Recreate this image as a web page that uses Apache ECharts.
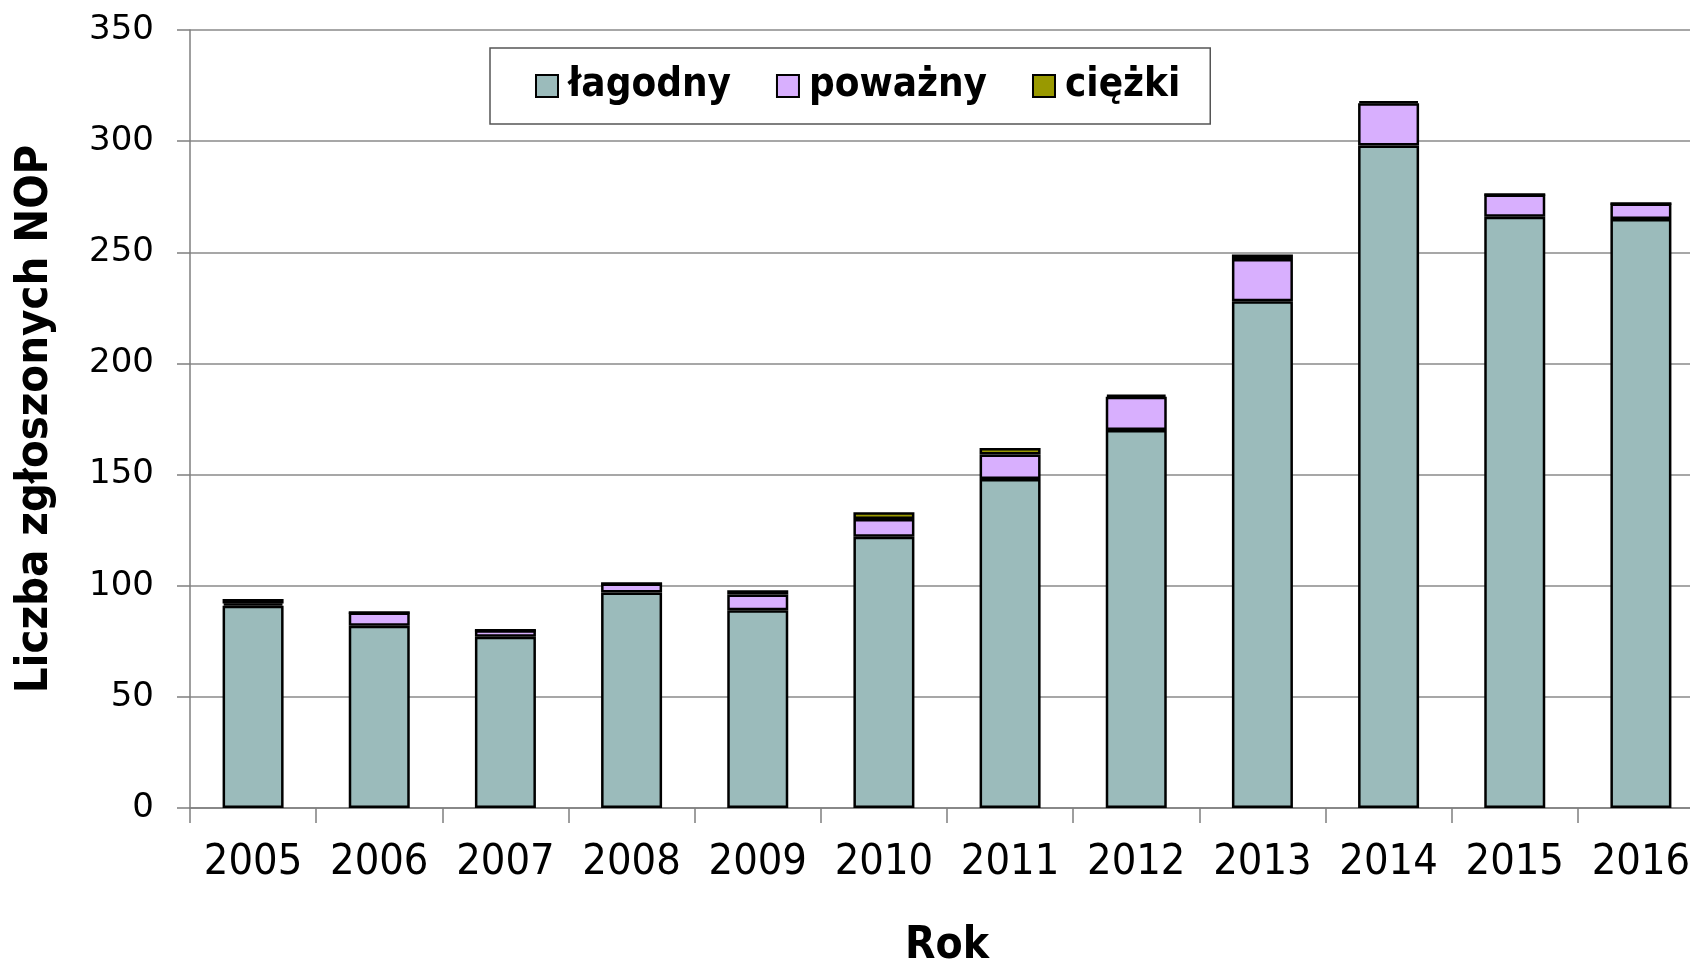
<!DOCTYPE html>
<html>
<head>
<meta charset="utf-8">
<script src="https://cdn.jsdelivr.net/npm/echarts@6/dist/echarts.min.js"></script>
<style>
  html, body { margin: 0; padding: 0; background: #ffffff; }
  #chart { width: 1690px; height: 965px; }
</style>
</head>
<body>
<div id="chart"></div>
<script>
// ---- data ----
const years = ['2005', '2006', '2007', '2008', '2009', '2010', '2011', '2012', '2013', '2014', '2015', '2016'];
const lagodny = [91, 82, 77, 97, 89, 122, 148, 170, 228, 298, 266, 265];
const powazny = [1, 6, 3, 4, 7, 8, 11, 15, 19, 19, 10, 7];
const ciezki  = [2, 0, 0, 0, 2, 3, 3, 1, 2, 1, 0, 0];
const seriesNames = ['łagodny', 'poważny', 'ciężki'];
const yTicks = { min: 0, max: 350, interval: 50 };
const xTitle = 'Rok';
const yTitle = 'Liczba zgłoszonych NOP';

// ---- styles ----
const colors = ['#9bbbbb', '#d8affe', '#999900'];
const COND = '"DejaVu Sans Condensed", "DejaVu Sans", sans-serif';

const chart = echarts.init(document.getElementById('chart'), null, { renderer: 'canvas' });

function barSeries(name, data, color) {
  return {
    name: name,
    type: 'bar',
    stack: 'total',
    data: data,
    barWidth: 61,
    itemStyle: { color: color, borderColor: '#000000', borderWidth: 2.5 },
    emphasis: { disabled: true },
    animation: false
  };
}

chart.setOption({
  animation: false,
  backgroundColor: '#ffffff',
  grid: {
    left: 190,
    top: 30,
    bottom: 157,
    width: 1514,
    outerBoundsMode: 'none',
    containLabel: false
  },
  legend: {
    data: seriesNames,
    left: 490,
    top: 48,
    orient: 'horizontal',
    icon: 'rect',
    itemWidth: 22,
    itemHeight: 22,
    itemGap: 45,
    padding: [18, 30, 18, 45],
    borderColor: '#555555',
    borderWidth: 1.5,
    backgroundColor: '#ffffff',
    itemStyle: { borderColor: '#000000', borderWidth: 2 },
    textStyle: {
      fontFamily: COND,
      fontWeight: 'bold',
      fontSize: 40,
      lineHeight: 40,
      color: '#000000',
      padding: [0, 0, 0, 5]
    }
  },
  xAxis: {
    type: 'category',
    data: years,
    boundaryGap: true,
    name: xTitle,
    nameLocation: 'middle',
    nameGap: 117,
    nameTextStyle: { fontFamily: COND, fontWeight: 'bold', fontSize: 44, color: '#000000' },
    axisLine: { show: true, lineStyle: { color: '#7f7f7f', width: 1.5 } },
    axisTick: { show: true, length: 15, lineStyle: { color: '#7f7f7f', width: 1.5 } },
    axisLabel: {
      interval: 0,
      margin: 33,
      fontFamily: COND,
      fontSize: 43,
      color: '#000000'
    },
    splitLine: { show: false }
  },
  yAxis: {
    type: 'value',
    min: yTicks.min,
    max: yTicks.max,
    interval: yTicks.interval,
    name: yTitle,
    nameLocation: 'middle',
    nameGap: 132,
    nameRotate: 90,
    nameTextStyle: { fontFamily: COND, fontWeight: 'bold', fontSize: 45, color: '#000000' },
    axisLine: { show: true, lineStyle: { color: '#7f7f7f', width: 1.5 } },
    axisTick: { show: true, length: 13, lineStyle: { color: '#7f7f7f', width: 1.5 } },
    axisLabel: {
      margin: 36,
      fontFamily: '"DejaVu Sans", Verdana, sans-serif',
      fontSize: 34,
      color: '#000000'
    },
    splitLine: { show: true, lineStyle: { color: '#8a8a8a', width: 1.5 } }
  },
  series: [
    barSeries(seriesNames[0], lagodny, colors[0]),
    barSeries(seriesNames[1], powazny, colors[1]),
    barSeries(seriesNames[2], ciezki, colors[2])
  ]
});
</script>
</body>
</html>
